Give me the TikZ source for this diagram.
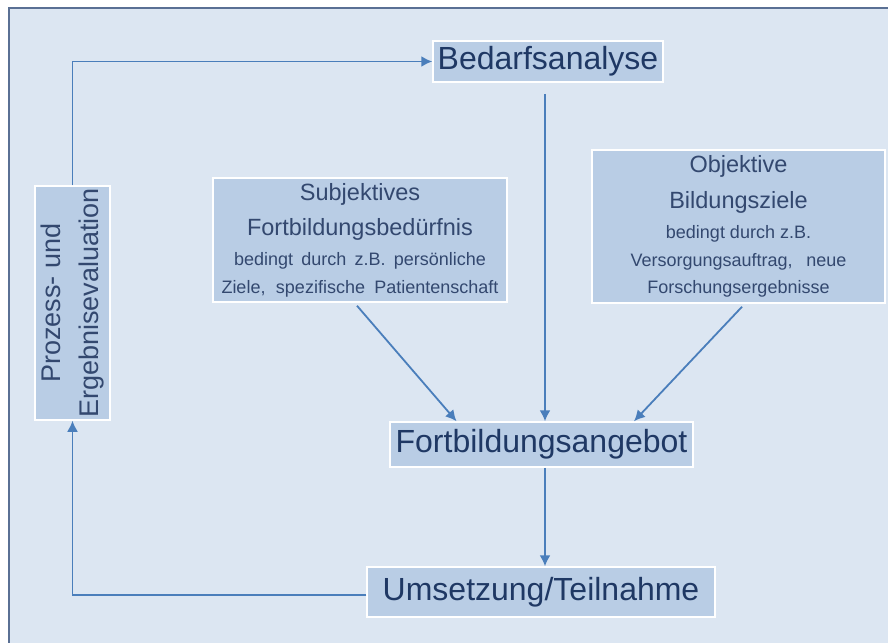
\documentclass[tikz,border=0pt]{standalone}
\usepackage{fontspec}
\setmainfont{Liberation Sans}
\usetikzlibrary{arrows.meta}
\definecolor{bgblue}{HTML}{DCE6F2}
\definecolor{boxblue}{HTML}{B9CDE5}
\definecolor{navy}{HTML}{1F3864}
\definecolor{greynavy}{HTML}{33486F}
\definecolor{arrowblue}{HTML}{4A7EBB}
\definecolor{framegrey}{HTML}{5A7094}
\newcommand{\smalltxt}{\fontsize{18}{22}\selectfont}
\newcommand{\streck}[2]{\makebox[#1][s]{#2}}

\begin{document}
\begin{tikzpicture}[x=1pt,y=-1pt,
		stufe/.style={fill=boxblue,draw=white,line width=1.5pt,inner sep=0pt,text=navy,font=\fontsize{32}{38}\selectfont},
		quelle/.style={fill=boxblue,draw=white,line width=1.5pt,inner sep=0pt,align=center,text=greynavy},
		pfeil/.style={-{Latex[length=11pt,width=11pt]},arrowblue,line width=1.8pt}]
		% FRAME
		\useasboundingbox (0,0) rectangle (888,642);
		\clip (0,0) rectangle (888,642);
		\fill [white] (0,0) rectangle (888,642);
		\draw [framegrey,line width=2pt,fill=bgblue] (9,8) rectangle (900,660);
		% STAGES
		\node [stufe,minimum width=230pt,minimum height=41pt] (bed) at (548,61.5) {Bedarfsanalyse};
		\node [stufe,minimum width=303pt,minimum height=45pt] (fort) at (541.5,444.5) {Fortbildungsangebot};
		\node [stufe,minimum width=348pt,minimum height=50pt] (ums) at (541,592) {Umsetzung/Teilnahme};
		\node [quelle,rotate=90,minimum width=234pt,minimum height=75pt,font=\fontsize{27}{38}\selectfont] (proz) at (72.5,303) {Prozess- und\\Ergebnisevaluation};
		% SOURCES
		\node [quelle,minimum width=294pt,minimum height=124pt,font=\fontsize{23.5}{33}\selectfont] (subj) at (360,240)
			{Subjektives\\[2pt]Fortbildungsbedürfnis\\[-3pt]\smalltxt\streck{252pt}{bedingt durch z.B. persönliche}\\[-5pt]\smalltxt\streck{277pt}{Ziele, spezifische Patientenschaft}};
		\node [quelle,minimum width=293pt,minimum height=153pt,font=\fontsize{23.5}{33}\selectfont] (obj) at (738.5,226.5)
			{Objektive\\[3pt]Bildungsziele\\[-3pt]\smalltxt bedingt durch z.B.\\[-5pt]\smalltxt\streck{216pt}{Versorgungsauftrag, neue}\\[-6pt]\smalltxt Forschungsergebnisse};
		% ARROWS
		\coordinate (mitte) at (545,0);
		\draw [pfeil] ([yshift=-11pt]bed.south -| mitte) -- (fort.north -| mitte);
		\draw [pfeil] ([xshift=-3pt,yshift=-3pt]subj.south) -- ([xshift=-85pt]fort.north);
		\draw [pfeil] ([xshift=3.5pt,yshift=-3pt]obj.south) -- ([xshift=92.5pt]fort.north);
		\draw [pfeil] (fort.south -| mitte) -- (ums.north -| mitte);
		\draw [pfeil] ([yshift=-3pt]ums.west) -| (proz.west);
		\draw [pfeil] (proz.east) |- (bed.west);
\end{tikzpicture}
\end{document}
